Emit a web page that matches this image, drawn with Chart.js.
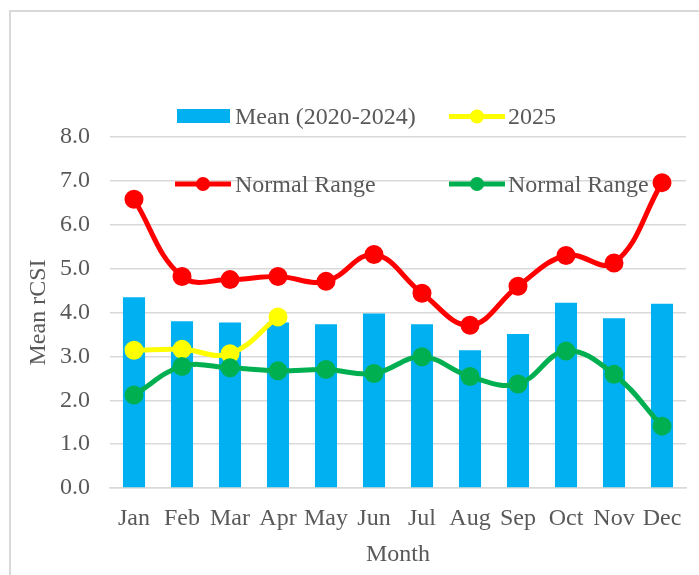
<!DOCTYPE html>
<html>
<head>
<meta charset="utf-8">
<script src="https://cdn.jsdelivr.net/npm/chart.js@4/dist/chart.umd.min.js"></script>
<style>
  html, body { margin: 0; padding: 0; background: #ffffff; }
  canvas { display: block; }
</style>
</head>
<body>
<canvas id="c" width="699" height="575"></canvas>
<script>
const months = ['Jan','Feb','Mar','Apr','May','Jun','Jul','Aug','Sep','Oct','Nov','Dec'];
const meanValues = [4.35, 3.80, 3.77, 3.77, 3.73, 3.98, 3.73, 3.14, 3.51, 4.22, 3.87, 4.20];
const values2025 = [3.14, 3.16, 3.06, 3.90, null, null, null, null, null, null, null, null];
const upperRange = [6.58, 4.82, 4.75, 4.82, 4.71, 5.32, 4.44, 3.71, 4.60, 5.30, 5.13, 6.96];
const lowerRange = [2.12, 2.77, 2.74, 2.67, 2.70, 2.61, 2.99, 2.54, 2.37, 3.12, 2.59, 1.41];
const seriesLabels = ['Mean (2020-2024)', '2025', 'Normal Range', 'Normal Range'];
const yAxisTitle = 'Mean rCSI';
const xAxisTitle = 'Month';

const FONT = '"Liberation Serif", "Times New Roman", serif';
const TXT = '#595959';
const FS = 24;

const framePlugin = {
  id: 'frame',
  beforeDraw(chart) {
    const ctx = chart.ctx;
    ctx.save();
    ctx.fillStyle = '#ffffff';
    ctx.fillRect(0, 0, chart.width, chart.height);
    ctx.strokeStyle = '#d9d9d9';
    ctx.lineWidth = 2;
    ctx.strokeRect(10, 11, chart.width + 20, chart.height + 20);
    ctx.restore();
  }
};

const legendPlugin = {
  id: 'customLegend',
  afterDraw(chart) {
    const ctx = chart.ctx;
    const ds = chart.data.datasets;
    const items = [
      { i: 0, type: 'box', x: 177, y: 116, tx: 235, base: 124 },
      { i: 1, type: 'line', x: 449, y: 116.5, tx: 508, base: 124 },
      { i: 2, type: 'line', x: 175, y: 184, tx: 235, base: 192 },
      { i: 3, type: 'line', x: 449, y: 184, tx: 508, base: 192 }
    ];
    ctx.save();
    items.forEach(it => {
      const d = ds[it.i];
      if (it.type === 'box') {
        ctx.fillStyle = d.backgroundColor;
        ctx.fillRect(it.x, it.y - 7, 53, 14);
      } else {
        ctx.strokeStyle = d.borderColor;
        ctx.lineWidth = 5;
        ctx.lineCap = 'butt';
        ctx.beginPath();
        ctx.moveTo(it.x, it.y);
        ctx.lineTo(it.x + 56, it.y);
        ctx.stroke();
        ctx.fillStyle = d.borderColor;
        ctx.beginPath();
        ctx.arc(it.x + 28, it.y, 7, 0, Math.PI * 2);
        ctx.fill();
      }
      ctx.fillStyle = TXT;
      ctx.font = FS + 'px ' + FONT;
      ctx.textBaseline = 'alphabetic';
      ctx.textAlign = 'left';
      ctx.fillText(d.label, it.tx, it.base);
    });
    ctx.restore();
  }
};

const lineStyle = (color) => ({
  type: 'line',
  borderColor: color,
  backgroundColor: color,
  pointBackgroundColor: color,
  pointBorderColor: color,
  borderWidth: 5,
  pointRadius: 7,
  pointHoverRadius: 7,
  tension: 0.4,
  fill: false,
  spanGaps: false
});

new Chart(document.getElementById('c'), {
  type: 'bar',
  data: {
    labels: months,
    datasets: [
      { type: 'bar', label: seriesLabels[0], data: meanValues, backgroundColor: '#00B0F0',
        borderWidth: 0, categoryPercentage: 1.0, barPercentage: 0.46, order: 3 },
      Object.assign({ label: seriesLabels[1], data: values2025 }, lineStyle('#FFFF00'), { order: 2 }),
      Object.assign({ label: seriesLabels[2], data: upperRange }, lineStyle('#FF0000'), { order: 0 }),
      Object.assign({ label: seriesLabels[3], data: lowerRange }, lineStyle('#00B050'), { order: 1 })
    ]
  },
  options: {
    responsive: false,
    animation: false,
    events: [],
    layout: { padding: { top: 137, right: 13, left: 10, bottom: 0 } },
    plugins: { legend: { display: false }, tooltip: { enabled: false } },
    scales: {
      x: {
        offset: true,
        grid: { display: false, drawTicks: false },
        border: { display: true, color: '#d9d9d9', width: 1.5 },
        ticks: { color: TXT, font: { family: FONT, size: FS }, padding: 16, maxRotation: 0, autoSkip: false },
        title: { display: true, text: xAxisTitle, color: TXT, font: { family: FONT, size: FS }, padding: { top: 0, bottom: 6 } },
        afterFit(scale) { scale.height = 87; }
      },
      y: {
        min: 0, max: 8,
        grid: { color: '#d9d9d9', lineWidth: 1.5, drawTicks: false },
        border: { display: false },
        ticks: { stepSize: 1, color: TXT, font: { family: FONT, size: FS }, padding: 20,
          callback: (v) => Number(v).toFixed(1) },
        title: { display: true, text: yAxisTitle, color: TXT, font: { family: FONT, size: FS }, padding: { top: 14, bottom: 0 } },
        afterFit(scale) { scale.width = 100; }
      }
    }
  },
  plugins: [framePlugin, legendPlugin]
});
</script>
</body>
</html>
